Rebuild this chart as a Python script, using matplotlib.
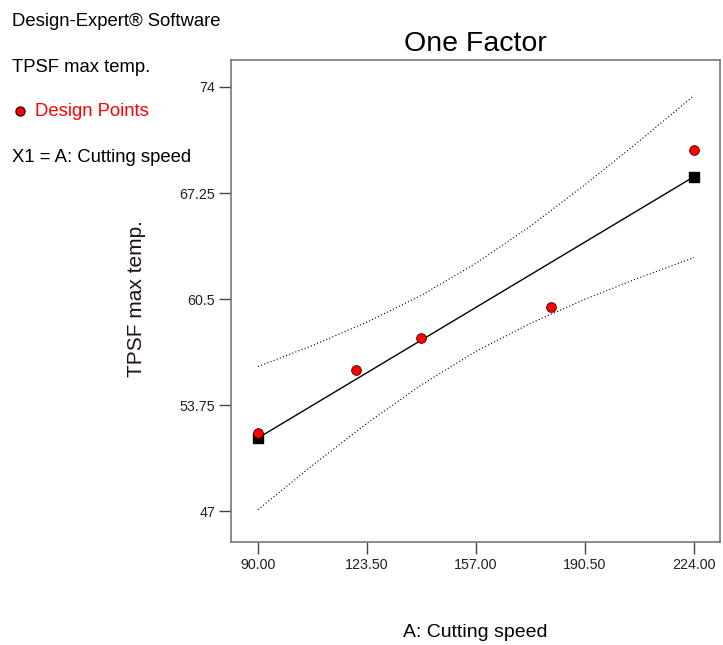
import matplotlib
matplotlib.use("Agg")
import matplotlib.pyplot as plt

plt.rcParams["font.family"] = ["Liberation Sans", "DejaVu Sans"]

# design points
speed = [90, 120, 140, 180, 224]
temp = [52.0, 56.0, 58.0, 60.0, 70.0]

# predicted values at the ends of the factor range
pred_x = [90, 224]
pred_y = [51.65, 68.29]

# 95% confidence band
band_x = [90, 106.75, 123.5, 140.25, 157, 173.75, 190.5, 207.25, 224]
band_hi = [56.20, 57.54, 59.03, 60.74, 62.78, 65.15, 67.78, 70.57, 73.45]
band_lo = [47.09, 49.91, 52.59, 55.04, 57.17, 58.95, 60.49, 61.86, 63.14]

xticks = [90, 123.5, 157, 190.5, 224]
yticks = [47, 53.75, 60.5, 67.25, 74]
ytick_labels = ["47", "53.75", "60.5", "67.25", "74"]

fig = plt.figure(figsize=(7.23, 6.45), dpi=100)
ax = fig.add_axes([0.3195, 0.1597, 0.6764, 0.7473])

ax.plot(band_x, band_hi, color="black", lw=0.8, ls=(0, (1, 2)))
ax.plot(band_x, band_lo, color="black", lw=0.8, ls=(0, (1, 2)))
ax.plot(pred_x, pred_y, color="black", lw=1.0)
ax.plot(pred_x, pred_y, "s", color="black", ms=7, ls="none")
ax.plot(speed, temp, "o", mfc="red", mec="#400000", mew=0.6, ms=7, ls="none")

ax.set_xlim(81.7, 232.0)
ax.set_ylim(45.03, 75.72)
ax.set_xticks(xticks)
ax.set_xticklabels(["%.2f" % v for v in xticks])
ax.set_yticks(yticks)
ax.set_yticklabels(ytick_labels)
ax.tick_params(direction="out", length=8.5, width=1, color="#444444",
               labelsize=10.3, labelcolor="#222222", pad=3)
for s in ax.spines.values():
    s.set_color("#777777")
    s.set_linewidth(1.2)

fig.text(475.5 / 723, 1 - 44 / 645, "One Factor", fontsize=20.5, ha="center", va="center")
ax.set_xlabel("A: Cutting speed", fontsize=14)
ax.xaxis.set_label_coords(0.5, (542 - 633) / 482)
ax.xaxis.label.set_va("center")
ax.set_ylabel("TPSF max temp.", fontsize=15, color="#221111")
ax.yaxis.set_label_coords((137 - 231) / 489, (542 - 299) / 482)
ax.yaxis.label.set_va("center")

fs = 13.3
fig.text(12 / 723, 1 - 22 / 645, "Design-Expert\u00ae Software", fontsize=fs, va="center")
fig.text(12 / 723, 1 - 68 / 645, "TPSF max temp.", fontsize=fs, va="center")
fig.lines.append(plt.Line2D([20 / 723], [1 - 111 / 645], marker="o", mfc="red",
                            mec="#400000", ms=6.5, transform=fig.transFigure))
fig.text(35 / 723, 1 - 112 / 645, "Design Points", fontsize=fs, va="center", color="red")
fig.text(12 / 723, 1 - 158 / 645, "X1 = A: Cutting speed", fontsize=fs, va="center")

plt.savefig("out.png", dpi=100)
